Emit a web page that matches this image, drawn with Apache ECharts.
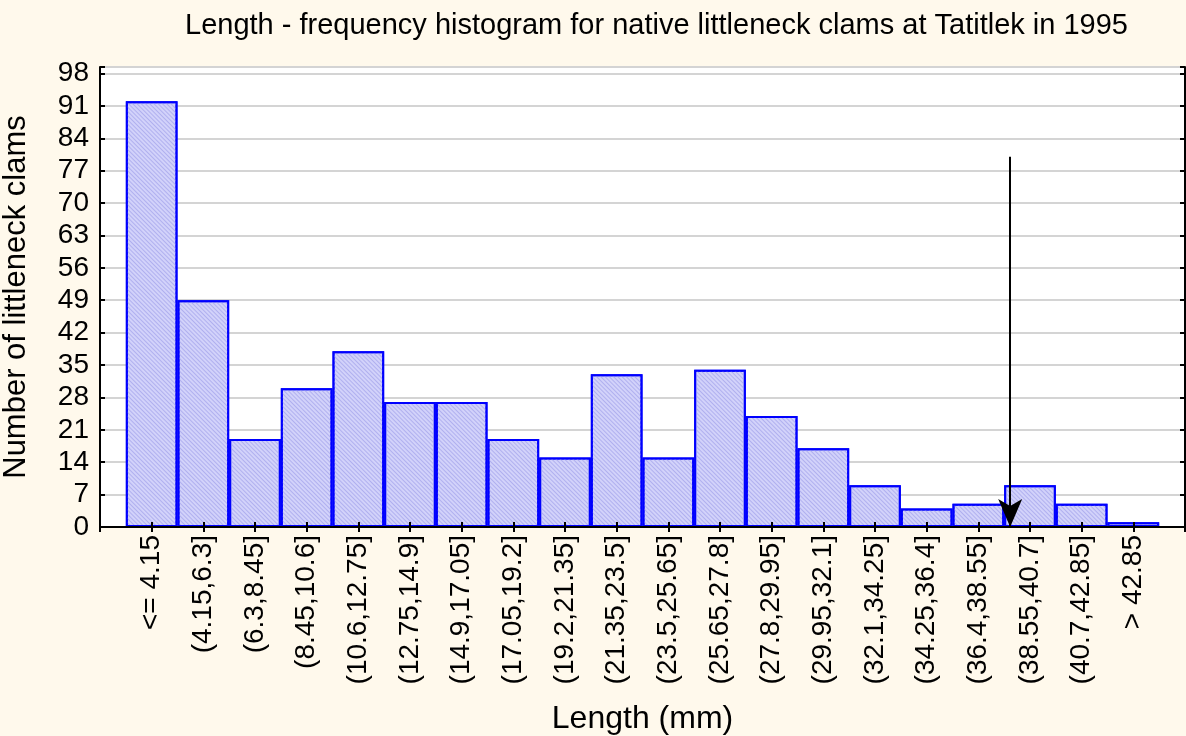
<!DOCTYPE html>
<html>
<head>
<meta charset="utf-8">
<script src="https://cdn.jsdelivr.net/npm/echarts@6/dist/echarts.min.js"></script>
<style>
html,body{margin:0;padding:0;background:#fff9ec;}
#c{width:1186px;height:736px;}
</style>
</head>
<body>
<div id="c"></div>
<script>
// ---- data ----
const categories = ['<= 4.15','(4.15,6.3]','(6.3,8.45]','(8.45,10.6]','(10.6,12.75]','(12.75,14.9]','(14.9,17.05]','(17.05,19.2]','(19.2,21.35]','(21.35,23.5]','(23.5,25.65]','(25.65,27.8]','(27.8,29.95]','(29.95,32.1]','(32.1,34.25]','(34.25,36.4]','(36.4,38.55]','(38.55,40.7]','(40.7,42.85]','> 42.85'];
const counts = [92,49,19,30,38,27,27,19,15,33,15,34,24,17,9,4,5,9,5,1];
const yTicks = [0,7,14,21,28,35,42,49,56,63,70,77,84,91,98];
const binStart = 4.15, binWidth = 2.15;   // bin edges of the histogram (mm)
const arrowLengthMm = 38.8;              // marked length
const arrowTop = 80;                     // arrow starts at this count

// padded category axis: one empty slot each side
const axisCats = [''].concat(categories, ['']);
const barData = [null].concat(counts, [null]);
const arrowPos = (arrowLengthMm - binStart) / binWidth + 1.5;

const FONT = 'Liberation Sans, Arial, sans-serif';
const chart = echarts.init(document.getElementById('c'));
chart.setOption({
  backgroundColor: '#fff9ec',
  animation: false,
  title: {
    text: 'Length - frequency histogram for native littleneck clams at Tatitlek in 1995',
    left: 180, top: 6,
    textStyle: {fontFamily: FONT, fontSize: 29, fontWeight: 'normal', color: '#000'}
  },
  grid: {left: 100, right: 1, top: 67, bottom: 209, show: true, backgroundColor: '#ffffff', borderWidth: 0, outerBoundsMode: 'none', containLabel: false},
  xAxis: [
    {
      type: 'category', data: axisCats, boundaryGap: false, position: 'bottom', z: 10,
      name: 'Length (mm)', nameLocation: 'middle', nameGap: 176,
      nameTextStyle: {fontFamily: FONT, fontSize: 32, color: '#000'},
      axisLine: {lineStyle: {color: '#000', width: 2}},
      axisTick: {show: true, inside: true, length: 5, interval: 0, lineStyle: {color: '#000', width: 2}},
      axisLabel: {rotate: 90, interval: 0, margin: 8, fontFamily: FONT, fontSize: 28, color: '#000'},
      splitLine: {show: false}
    },
    {
      type: 'category', data: axisCats, boundaryGap: false, position: 'top', z: 10,
      axisLine: {lineStyle: {color: '#000', width: 2}},
      axisTick: {show: true, inside: true, length: 5, interval: 0, lineStyle: {color: '#000', width: 2}},
      axisLabel: {show: false},
      splitLine: {show: false}
    },
    {
      type: 'value', min: 0, max: axisCats.length - 1, show: false
    }
  ],
  yAxis: [
    {
      type: 'value', min: 0, max: 99.4, interval: 7, position: 'left',
      name: 'Number of littleneck clams', nameLocation: 'middle', nameGap: 68,
      nameTextStyle: {fontFamily: FONT, fontSize: 31, color: '#000'},
      axisLine: {show: true, lineStyle: {color: '#000', width: 2}},
      axisTick: {show: true, inside: true, length: 5, lineStyle: {color: '#000', width: 2}},
      axisLabel: {
        margin: 11, fontFamily: FONT, fontSize: 28, color: '#000',
        formatter: function (v) { return yTicks.indexOf(v) >= 0 ? String(v) : ''; }
      },
      splitLine: {show: true, lineStyle: {color: '#d4d4d4', width: 2}}
    },
    {
      type: 'value', min: 0, max: 99.4, interval: 7, position: 'right',
      axisLine: {show: true, lineStyle: {color: '#000', width: 2}},
      axisTick: {show: true, inside: true, length: 5, lineStyle: {color: '#000', width: 2}},
      axisLabel: {show: false},
      splitLine: {show: false}
    }
  ],
  series: [
    {
      type: 'bar', xAxisIndex: 0, yAxisIndex: 0,
      data: barData, barWidth: '100%',
      itemStyle: {
        color: '#d2d2fa', borderColor: '#0000ff', borderWidth: 2,
        decal: {symbol: 'rect', symbolSize: 1, dashArrayX: [1, 0], dashArrayY: [1, 2], rotation: Math.PI / 4, color: '#b0b0ef'}
      },
      silent: true
    },
    {
      type: 'scatter', xAxisIndex: 2, yAxisIndex: 0, data: [], silent: true,
      markLine: {
        silent: true, animation: false,
        symbol: ['none', 'arrow'],
        label: {show: false},
        lineStyle: {color: '#000', width: 2, type: 'solid'},
        data: [[
          {coord: [arrowPos, arrowTop], symbol: 'none', symbolSize: 1},
          {coord: [arrowPos, 0], symbol: 'arrow', symbolSize: [18, 28]}
        ]]
      }
    }
  ]
});
</script>
</body>
</html>
